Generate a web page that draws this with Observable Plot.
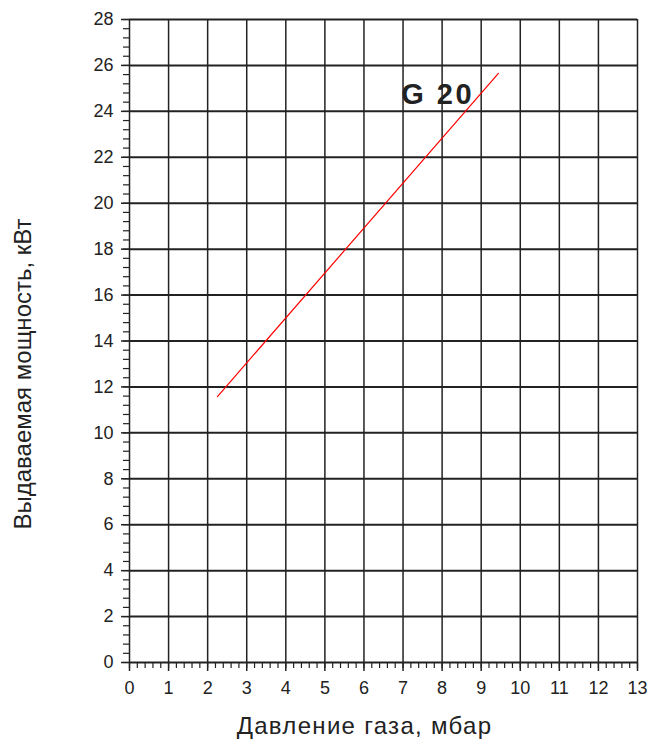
<!DOCTYPE html>
<html>
<head>
<meta charset="utf-8">
<script src="https://cdn.jsdelivr.net/npm/d3@7"></script>
<script src="https://cdn.jsdelivr.net/npm/@observablehq/plot@0.6"></script>
<style>
  html, body { margin: 0; padding: 0; background: #fff; }
  #chart svg { display: block; font-family: "Liberation Sans", Arial, sans-serif; }
</style>
</head>
<body>
<div id="chart"></div>
<script>
// Data
const xMajorTicks = [0, 1, 2, 3, 4, 5, 6, 7, 8, 9, 10, 11, 12, 13];
const yMajorTicks = [0, 2, 4, 6, 8, 10, 12, 14, 16, 18, 20, 22, 24, 26, 28];
const xMinorStep = 0.2;
const yMinorStep = 0.4;
const lineX = [2.25, 9.44];
const lineY = [11.58, 25.65];
const seriesName = "G 20";
const seriesLabelX = 7.86;
const seriesLabelY = 24.72;
const xLabel = "Давление газа, мбар";
const yLabel = "Выдаваемая мощность, кВт";

const xMinorTicks = d3.range(0, 13 + 1e-9, xMinorStep).map(v => +v.toFixed(2));
const yMinorTicks = d3.range(0, 28 + 1e-9, yMinorStep).map(v => +v.toFixed(2));
const linePts = lineX.map((x, i) => ({x, y: lineY[i]}));

const chart = Plot.plot({
  width: 654,
  height: 744,
  marginTop: 19,
  marginRight: 17,
  marginBottom: 82,
  marginLeft: 129,
  style: {fontFamily: "'Liberation Sans', Arial, sans-serif", background: "#fff", color: "#222"},
  x: {domain: [0, 13]},
  y: {domain: [0, 28]},
  marks: [
    Plot.ruleX(xMajorTicks, {y1: 0, y2: 28, stroke: "#222", strokeWidth: 1.5}),
    Plot.ruleY(yMajorTicks, {x1: 0, x2: 13, stroke: "#222", strokeWidth: 2}),
    Plot.axisX(xMinorTicks, {tickSize: 6, tickFormat: () => "", stroke: "#222", strokeWidth: 1.2, label: null}),
    Plot.axisX(xMajorTicks, {tickSize: 9, tickPadding: 10, fontSize: 18, fill: "#222", stroke: "#222", strokeWidth: 1.5, label: null}),
    Plot.axisY(yMinorTicks, {tickSize: 6, tickFormat: () => "", stroke: "#222", strokeWidth: 1.2, label: null}),
    Plot.axisY(yMajorTicks, {tickSize: 8, tickPadding: 8, fontSize: 18, fill: "#222", stroke: "#222", strokeWidth: 1.5, label: null}),
    Plot.line(linePts, {x: "x", y: "y", stroke: "red", strokeWidth: 1.2}),
    Plot.text([seriesName], {x: seriesLabelX, y: seriesLabelY, text: d => d, dx: 1, fontSize: 29, fontWeight: "bold", fill: "#222"}),
    Plot.text([xLabel], {frameAnchor: "bottom", text: d => d, dx: -19, dy: 71, fontSize: 24, fill: "#222", lineAnchor: "bottom", textAnchor: "middle"}),
    Plot.text([yLabel], {frameAnchor: "left", text: d => d, dx: -106, dy: 33, rotate: -90, fontSize: 24, fill: "#222", textAnchor: "middle"})
  ]
});
d3.select(chart).selectAll("text")
  .filter(function() { return this.textContent === xLabel; })
  .attr("letter-spacing", "1.3px");
d3.select(chart).selectAll("text")
  .filter(function() { return this.textContent === seriesName; })
  .attr("letter-spacing", "2.5px");
document.getElementById("chart").appendChild(chart);
</script>
</body>
</html>
